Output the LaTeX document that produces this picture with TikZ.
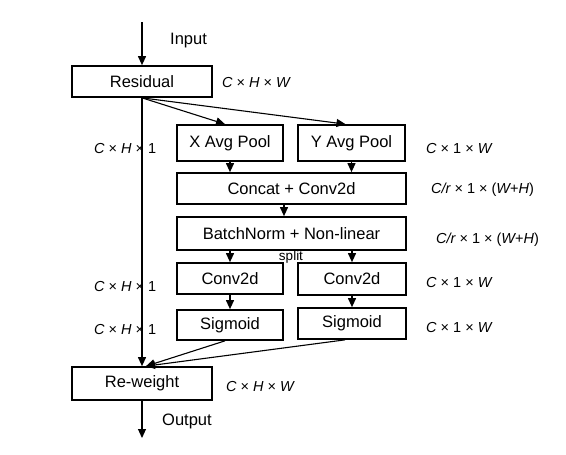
\documentclass[tikz,border=0pt]{standalone}
\usepackage{fontspec}
\setmainfont{Liberation Sans}
\usetikzlibrary{arrows.meta,calc}
\begin{document}
\begin{tikzpicture}[x=1pt,y=-1pt,
  box/.style={draw,line width=1.7pt,inner sep=0pt,font=\fontsize{16.5}{18}\selectfont},
  arr/.style={line width=1.1pt,-{Triangle[length=9pt,width=8pt]}},
  lab/.style={font=\fontsize{14.5}{16}\selectfont,anchor=west,inner sep=0pt},
  txt/.style={font=\fontsize{16.5}{18}\selectfont,anchor=west,inner sep=0pt}]
\useasboundingbox (0,0) rectangle (566,455);
\fill[white] (0,0) rectangle (566,455);
% boxes
\node[box,minimum width=140pt,minimum height=31pt] (res) at (142,81.5) {Residual};
\node[box,minimum width=106pt,minimum height=36pt] (xp) at (230,143) {X Avg Pool};
\node[box,minimum width=107pt,minimum height=36pt] (yp) at (351.5,143) {Y Avg Pool};
\node[box,minimum width=229pt,minimum height=31pt] (cat) at (291.5,188.5) {Concat + Conv2d};
\node[box,minimum width=229pt,minimum height=33pt] (bn) at (291.5,233.5) {BatchNorm + Non-linear};
\node[box,minimum width=106pt,minimum height=31pt] (cl) at (230,278.5) {Conv2d};
\node[box,minimum width=108pt,minimum height=32pt] (cr) at (352,279) {Conv2d};
\node[box,minimum width=106pt,minimum height=30pt] (sl) at (230,325) {Sigmoid};
\node[box,minimum width=108pt,minimum height=31pt] (sr) at (352,323.5) {Sigmoid};
\node[box,minimum width=140pt,minimum height=33pt] (rw) at (142,383.5) {Re-weight};
% free ends
\coordinate (in) at (142,22);
\coordinate (out) at (142,438);
\coordinate (mid) at (284,0);
% texts
\node[txt] (tin) at (170,41) {Input};
\node[txt] (tout) at (162,421) {Output};
\node[font=\fontsize{13.5}{15}\selectfont,inner sep=0pt] (split) at (291,257) {split};
% dimension labels
\node[lab] (l1) at (222,83) {\itshape C\upshape{} × \itshape H\upshape{} × \itshape W};
\node[lab] (l2) at (226,387) {\itshape C\upshape{} × \itshape H\upshape{} × \itshape W};
\node[lab] (l3) at (94,149) {\itshape C\upshape{} × \itshape H\upshape{} × 1};
\node[lab] (l4) at (94,287) {\itshape C\upshape{} × \itshape H\upshape{} × 1};
\node[lab] (l5) at (94,330) {\itshape C\upshape{} × \itshape H\upshape{} × 1};
\node[lab] (r1) at (426,149) {\itshape C\upshape{} × 1 × \itshape W};
\node[lab] (r2) at (431,190) {\itshape C/r\upshape{} × 1 × (\itshape W\upshape{}+\itshape H\upshape{})};
\node[lab] (r3) at (436,240) {\itshape C/r\upshape{} × 1 × (\itshape W\upshape{}+\itshape H\upshape{})};
\node[lab] (r4) at (426,283) {\itshape C\upshape{} × 1 × \itshape W};
\node[lab] (r5) at (426,328) {\itshape C\upshape{} × 1 × \itshape W};
% connectors
\draw[arr] (in) -- (res.north);
\draw[arr] (res.south) -- (rw.north);
\draw[arr] (rw.south) -- (out);
\draw[arr] (res.south) -- ($(xp.north)+(-5,0)$);
\draw[arr] (res.south) -- ($(yp.north)+(-6,0)$);
\draw[arr] (xp.south) -- (xp.south |- cat.north);
\draw[arr] (yp.south) -- (yp.south |- cat.north);
\draw[arr] (cat.south -| mid) -- (bn.north -| mid);
\draw[arr] (bn.south -| cl.north) -- (cl.north);
\draw[arr] (bn.south -| cr.north) -- (cr.north);
\draw[arr] (cl.south) -- (sl.north);
\draw[arr] (cr.south) -- (sr.north);
\draw[arr] ($(sl.south)+(-5,0)$) -- ($(rw.north)+(4,0)$);
\draw[arr] ($(sr.south)+(-7,0)$) -- ($(rw.north)+(4,0)$);
\end{tikzpicture}
\end{document}
